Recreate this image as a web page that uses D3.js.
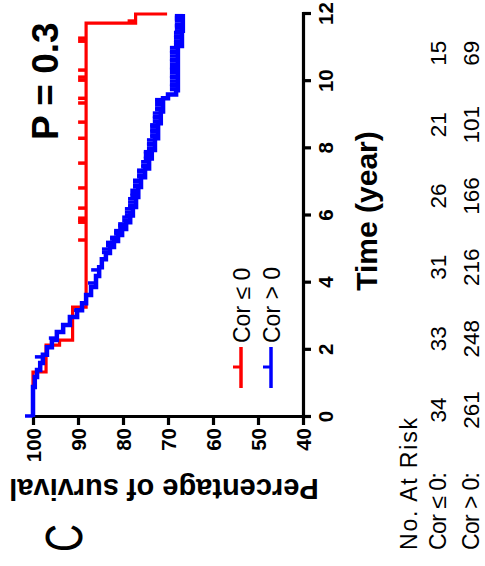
<!DOCTYPE html>
<html>
<head>
<meta charset="utf-8">
<script src="https://cdn.jsdelivr.net/npm/d3@7"></script>
<style>
  html, body { margin: 0; padding: 0; background: #fff; }
  svg { display: block; }
  text { font-family: Arial, "Liberation Sans", Helvetica, sans-serif; fill: #000; }
</style>
</head>
<body>
<svg id="chart" width="485" height="566"></svg>
<script>
// Kaplan-Meier survival by correlation group (time in years, survival in %)
const lowTimes  = [0, 1.34, 2.14, 2.29, 3.27, 11.73, 12.0];
const lowSurv   = [100, 97.1, 94.1, 91.2, 88.2, 77.2, 70.2];
const lowCensor = [5.27, 5.80, 5.86, 5.92, 6.22, 6.82, 7.56, 8.30, 8.78, 9.35, 9.49,
                   10.03, 10.12, 10.33, 11.19, 11.28, 11.79];

const highTimes = [0, 0.89, 1.19, 1.40, 1.61, 1.85, 2.08, 2.29, 2.53, 2.74, 2.98, 3.18,
                   3.39, 3.63, 3.87, 4.20, 4.46, 4.70, 4.88, 5.06, 5.24, 5.42, 5.60, 5.80,
                   6.00, 6.25, 6.55, 6.85, 7.14, 7.40, 7.70, 7.95, 8.30, 8.75, 9.10, 9.49,
                   9.60, 9.73, 11.05, 11.50, 12.0];
const highSurv  = [100, 99.6, 99.1, 98.4, 97.8, 96.9, 95.8, 94.7, 93.3, 91.8, 90.2, 89.1,
                   88.2, 87.1, 86.0, 85.3, 84.7, 83.8, 82.9, 82.0, 81.1, 80.2, 79.3, 78.4,
                   77.8, 77.1, 76.6, 76.0, 75.1, 74.2, 73.6, 72.9, 72.2, 71.6, 71.1, 70.0,
                   68.2, 67.8, 66.9, 66.7, 66.7];
const highCensor = [0.03, 1.79, 2.35, 2.53, 3.18, 3.99, 4.38, 4.90, 5.00, 5.10, 5.15, 5.20,
                    5.30, 5.35, 5.45, 5.50, 5.55, 5.65, 5.70, 5.75, 5.85, 5.95, 6.00, 6.10,
                    6.20, 6.25, 6.30, 6.40, 6.50, 6.60, 6.65, 6.75, 6.85, 6.90, 7.00, 7.05,
                    7.15, 7.20, 7.30, 7.35, 7.45, 7.50, 7.60, 7.70, 7.75, 7.85, 7.90, 8.00,
                    8.10, 8.15, 8.25, 8.35, 8.40, 8.50, 8.55, 8.65, 8.70, 8.80, 8.90, 8.95,
                    9.05, 9.15, 9.20, 9.30, 9.40, 9.45, 9.75, 9.85, 9.90, 10.00, 10.10, 10.15,
                    10.25, 10.35, 10.40, 10.50, 10.60, 10.65, 10.75, 10.85, 10.90, 11.00,
                    11.10, 11.15, 11.20, 11.30, 11.35, 11.45, 11.50, 11.60, 11.65, 11.70,
                    11.80, 11.85, 11.90, 11.95];

const groupLabels = ["Cor \u2264 0", "Cor > 0"];
const groupColors = ["#ff0000", "#0000ff"];

const timeTicks = [0, 2, 4, 6, 8, 10, 12];
const survTicks = [40, 50, 60, 70, 80, 90, 100];

const riskTimes = [0, 2, 4, 6, 8, 10];
const riskLow   = [34, 33, 31, 26, 21, 15];
const riskHigh  = [261, 248, 216, 166, 101, 69];
const riskTitle = "No. At Risk";
const riskRowLabels = ["Cor \u2264 0:", "Cor > 0:"];

const pText = "P = 0.3";
const panelLetter = "C";

// The figure is laid out landscape (566 x 485) and turned a quarter turn counter-clockwise.
const W = 566;
const svg = d3.select("#chart");
const g = svg.append("g").attr("transform", `translate(0,${W}) rotate(-90)`);

const x = d3.scaleLinear().domain([0, 12]).range([149, 552]);
const y = d3.scaleLinear().domain([40, 100]).range([303, 33]);

// axes
const xAxis = d3.axisBottom(x).tickValues(timeTicks).tickSize(8).tickSizeOuter(0).tickPadding(7);
const yAxis = d3.axisLeft(y).tickValues(survTicks).tickSize(8).tickSizeOuter(0).tickPadding(3);

const gx = g.append("g").attr("transform", `translate(0,${y(40)})`).call(xAxis);
const gy = g.append("g").attr("transform", `translate(${x(0)},0)`).call(yAxis);

[gx, gy].forEach(a => {
  a.select(".domain").attr("stroke", "#000").attr("stroke-width", 3.2).attr("stroke-linecap", "square");
  a.selectAll(".tick line").attr("stroke", "#000").attr("stroke-width", 3.2);
  a.selectAll(".tick text")
    .attr("font-family", "Arial, 'Liberation Sans', sans-serif")
    .attr("font-weight", "bold").attr("font-size", 20.5).attr("fill", "#000");
});
gy.selectAll(".tick text").attr("dy", "0.38em");

// axis titles
g.append("text")
  .attr("transform", `translate(87,164) rotate(-90)`)
  .attr("text-anchor", "middle")
  .attr("font-weight", "bold").attr("font-size", 29)
  .text("Percentage of survival");

g.append("text")
  .attr("x", 355).attr("y", 377)
  .attr("text-anchor", "middle")
  .attr("font-weight", "bold").attr("font-size", 30)
  .text("Time (year)");

// panel letter
g.append("g").attr("transform", "translate(14,82) scale(0.76,1)")
  .append("text").attr("font-size", 51).text(panelLetter);

// p value
g.append("text")
  .attr("x", 426).attr("y", 58)
  .attr("font-weight", "bold").attr("font-size", 37)
  .text(pText);

// survival curves
const groups = [
  { times: lowTimes, surv: lowSurv, censor: lowCensor, color: groupColors[0], width: 3.2 },
  { times: highTimes, surv: highSurv, censor: highCensor, color: groupColors[1], width: 4.5 }
];

const line = d3.line().curve(d3.curveStepAfter).x(d => x(d[0])).y(d => y(d[1]));
const bis = d3.bisector(d => d).right;
const tickLen = 8;

groups.forEach(grp => {
  const pts = grp.times.map((t, i) => [t, grp.surv[i]]);
  g.append("path")
    .attr("d", line(pts))
    .attr("fill", "none")
    .attr("stroke", grp.color)
    .attr("stroke-width", grp.width)
    .attr("stroke-linejoin", "miter");

  const survAt = t => grp.surv[Math.max(0, bis(grp.times, t) - 1)];
  g.append("g").selectAll("line")
    .data(grp.censor)
    .join("line")
    .attr("x1", t => x(t)).attr("x2", t => x(t))
    .attr("y1", t => y(survAt(t)))
    .attr("y2", t => y(survAt(t)) - tickLen)
    .attr("stroke", grp.color)
    .attr("stroke-width", 3.5);
});

// legend
const legend = g.append("g");
groupLabels.forEach((lab, i) => {
  const ly = 241 + i * 30;
  legend.append("line")
    .attr("x1", 178).attr("x2", 219).attr("y1", ly).attr("y2", ly)
    .attr("stroke", groupColors[i]).attr("stroke-width", 3.5);
  legend.append("line")
    .attr("x1", 199).attr("x2", 199).attr("y1", ly).attr("y2", ly - tickLen)
    .attr("stroke", groupColors[i]).attr("stroke-width", 3);
  legend.append("text")
    .attr("x", 223).attr("y", ly + 8.5)
    .attr("font-size", 23)
    .text(lab);
});

// numbers at risk
const tableX = d3.scaleLinear().domain([0, 12]).range([156, 584]);
g.append("text").attr("x", 16).attr("y", 417).attr("font-size", 23)
  .attr("textLength", 132).text(riskTitle);
const rowY = [446, 479];
riskRowLabels.forEach((lab, i) => {
  g.append("text").attr("x", 16).attr("y", rowY[i]).attr("font-size", 23)
    .attr("textLength", 78).text(lab);
});
[riskLow, riskHigh].forEach((vals, i) => {
  g.append("g").selectAll("text")
    .data(vals)
    .join("text")
    .attr("x", (d, j) => tableX(riskTimes[j]))
    .attr("y", rowY[i])
    .attr("text-anchor", "middle")
    .attr("font-size", 22.5)
    .text(d => d);
});
</script>
</body>
</html>
